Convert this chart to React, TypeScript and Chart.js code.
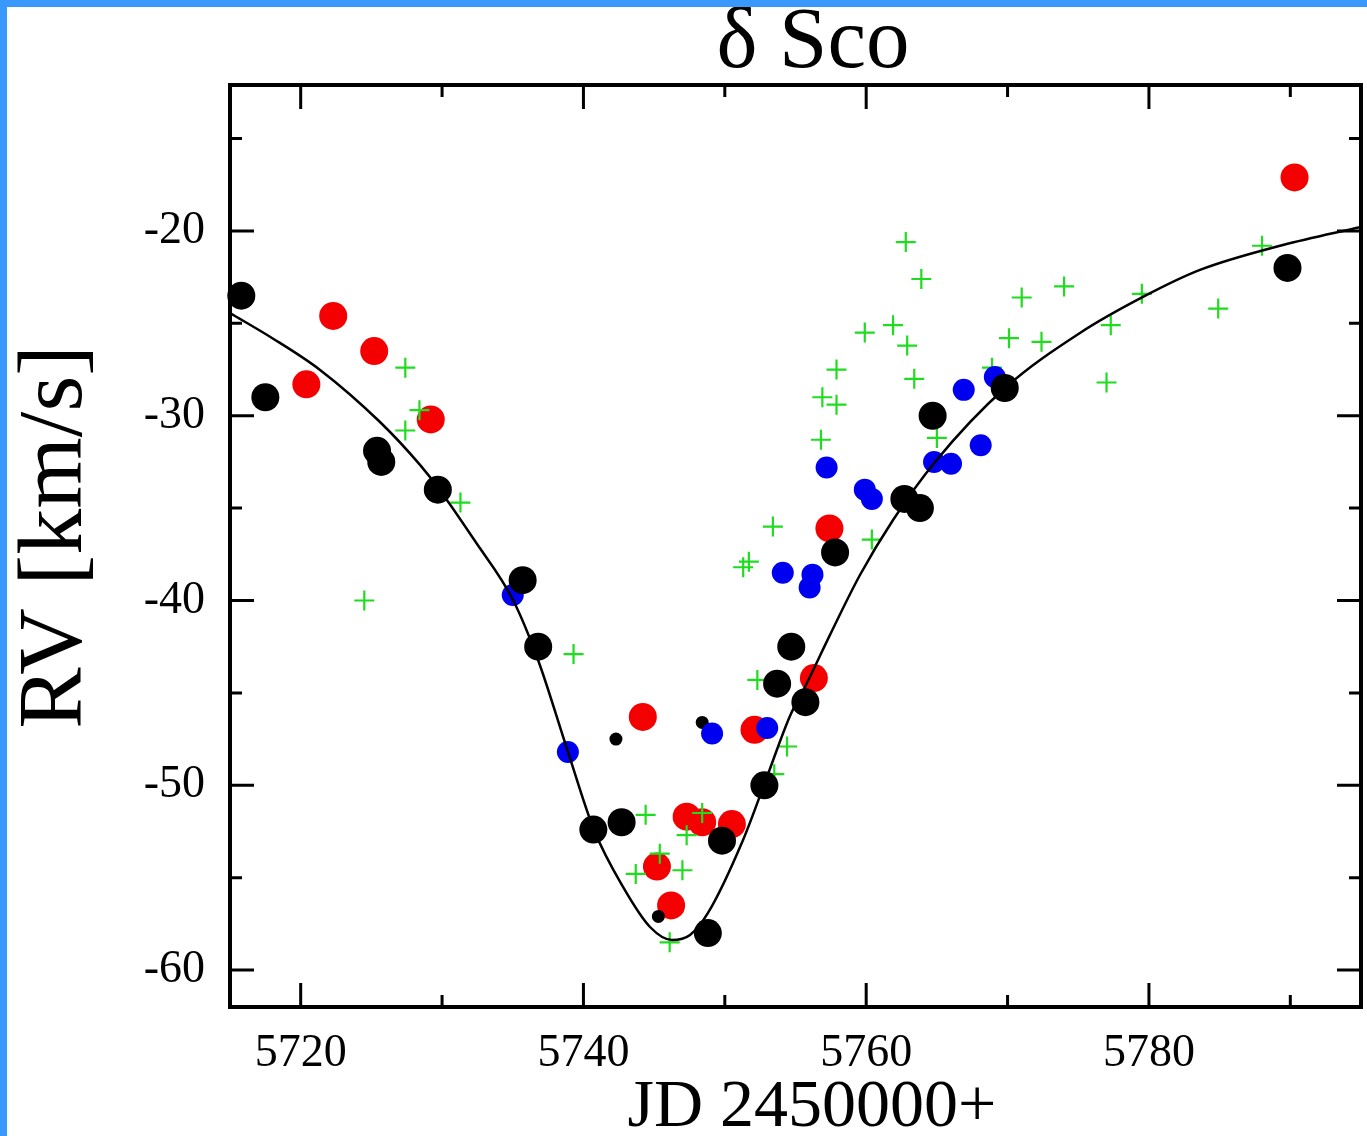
import React, { useEffect, useRef } from "react";
import { Chart, registerables } from "chart.js";

Chart.register(...registerables);

const TITLE = "δ Sco";
const X_TITLE = "JD 2450000+";
const Y_TITLE = "RV [km/s]";

const X_MIN = 5715;
const X_MAX = 5795;
const Y_MIN = -62;
const Y_MAX = -12.1;
const X_TICKS = [5720, 5740, 5760, 5780];
const X_MINOR = [5730, 5750, 5770, 5790];
const Y_TICKS = [-20, -30, -40, -50, -60];
const Y_MINOR = [-15, -25, -35, -45, -55];

// model orbit curve
const CURVE_X = [5715.0, 5717.97, 5721.37, 5725.61, 5728.44, 5729.78, 5732.33, 5735.02, 5736.79, 5738.91, 5740.75, 5742.8, 5744.71, 5746.26, 5747.54, 5748.81, 5751.29, 5752.98, 5754.61, 5755.74, 5757.44, 5759.56, 5761.9, 5764.87, 5769.82, 5775.12, 5779.58, 5783.61, 5789.48, 5795.0];
const CURVE_Y = [-24.44, -25.79, -27.52, -30.34, -32.66, -33.96, -36.78, -39.97, -43.22, -48.2, -52.42, -55.5, -57.67, -58.37, -58.1, -56.91, -52.96, -49.55, -46.25, -44.57, -41.86, -38.62, -35.64, -32.5, -28.5, -25.52, -23.57, -22.11, -20.76, -19.78];

// large black dots
const BLACK_X = [5715.8, 5717.5, 5725.4, 5725.7, 5729.7, 5735.7, 5736.8, 5740.7, 5742.7, 5748.8, 5749.8, 5752.8, 5753.7, 5754.7, 5755.7, 5757.8, 5762.7, 5763.8, 5764.7, 5769.8, 5789.8];
const BLACK_Y = [-23.5, -29.0, -31.9, -32.5, -34.0, -38.9, -42.5, -52.4, -52.0, -58.0, -53.0, -50.0, -44.5, -42.5, -45.5, -37.4, -34.5, -35.0, -30.0, -28.5, -22.0];

// red dots
const RED_X = [5720.4, 5722.3, 5725.2, 5729.2, 5744.2, 5745.2, 5746.2, 5747.3, 5748.4, 5750.5, 5752.1, 5756.3, 5757.4, 5790.3];
const RED_Y = [-28.3, -24.6, -26.5, -30.2, -46.3, -54.4, -56.5, -51.7, -52.0, -52.1, -47.0, -44.2, -36.1, -17.1];

// blue dots
const BLUE_X = [5735.0, 5738.9, 5749.1, 5753.0, 5754.1, 5756.0, 5756.2, 5757.2, 5759.9, 5760.4, 5764.8, 5766.0, 5768.1, 5766.9, 5769.1];
const BLUE_Y = [-39.7, -48.2, -47.2, -46.9, -38.5, -39.3, -38.6, -32.8, -34.0, -34.5, -32.5, -32.6, -31.6, -28.6, -27.9];

// small black dots
const SMALL_X = [5742.3, 5748.4, 5745.3];
const SMALL_Y = [-47.5, -46.6, -57.1];

// green crosses
const GREEN_X = [5724.5, 5727.4, 5728.4, 5727.4, 5731.3, 5739.3, 5744.4, 5743.7, 5745.4, 5747.0, 5747.3, 5748.4, 5746.1, 5754.4, 5752.3, 5753.5, 5751.3, 5751.7, 5753.4, 5760.4, 5756.8, 5756.9, 5757.9, 5757.9, 5759.9, 5761.9, 5762.9, 5763.4, 5762.8, 5763.9, 5768.9, 5765.0, 5770.1, 5772.4, 5771.0, 5774.0, 5777.3, 5777.0, 5779.5, 5784.9, 5788.0];
const GREEN_Y = [-40.0, -27.4, -29.7, -30.8, -34.7, -42.9, -51.6, -54.8, -53.7, -54.6, -52.7, -51.5, -58.5, -47.9, -44.3, -49.4, -38.2, -37.9, -36.0, -36.7, -31.3, -29.0, -29.4, -27.5, -25.5, -25.1, -26.2, -28.0, -20.6, -22.6, -27.4, -31.2, -25.8, -26.0, -23.6, -23.0, -25.1, -28.2, -23.4, -24.2, -20.8];

const pts = (xs: number[], ys: number[]) => xs.map((x, i) => ({ x, y: ys[i] }));

const SERIF = "'Liberation Serif', 'DejaVu Serif', serif";

const framePlugin = {
  id: "frameAndTitles",
  afterDraw(chart: any) {
    const { ctx, chartArea: a, scales } = chart;
    const x = scales.x;
    const y = scales.y;
    ctx.save();
    ctx.strokeStyle = "#000";
    ctx.lineCap = "butt";
    ctx.lineWidth = 3;
    const xt = (vals: number[], len: number) => {
      vals.forEach((v) => {
        const px = x.getPixelForValue(v);
        ctx.beginPath();
        ctx.moveTo(px, a.bottom);
        ctx.lineTo(px, a.bottom - len);
        ctx.moveTo(px, a.top);
        ctx.lineTo(px, a.top + len);
        ctx.stroke();
      });
    };
    const yt = (vals: number[], len: number) => {
      vals.forEach((v) => {
        const py = y.getPixelForValue(v);
        ctx.beginPath();
        ctx.moveTo(a.left, py);
        ctx.lineTo(a.left + len, py);
        ctx.moveTo(a.right, py);
        ctx.lineTo(a.right - len, py);
        ctx.stroke();
      });
    };
    xt(X_TICKS, 24);
    xt(X_MINOR, 12);
    yt(Y_TICKS, 24);
    yt(Y_MINOR, 12);
    ctx.lineWidth = 4;
    ctx.strokeRect(a.left, a.top, a.right - a.left, a.bottom - a.top);

    ctx.fillStyle = "#000";
    ctx.textAlign = "center";
    ctx.textBaseline = "middle";
    ctx.font = `87px ${SERIF}`;
    ctx.fillText(TITLE, 813, 44);
    ctx.font = `68px ${SERIF}`;
    ctx.fillText(X_TITLE, 812, 1108);
    ctx.translate(55, 537);
    ctx.rotate(-Math.PI / 2);
    ctx.font = `92px ${SERIF}`;
    ctx.fillText(Y_TITLE, 0, 2);
    ctx.restore();
  },
};

export default function App() {
  const ref = useRef<HTMLCanvasElement | null>(null);

  useEffect(() => {
    if (!ref.current) return;
    const chart = new Chart(ref.current, {
      type: "scatter",
      data: {
        datasets: [
          {
            type: "line",
            data: pts(CURVE_X, CURVE_Y),
            borderColor: "#000",
            borderWidth: 2.5,
            pointRadius: 0,
            cubicInterpolationMode: "monotone",
            fill: false,
            order: 0,
          } as any,
          {
            data: pts(BLACK_X, BLACK_Y),
            backgroundColor: "#000",
            borderWidth: 0,
            pointRadius: 14,
            order: 1,
            clip: false,
          },
          {
            data: pts(BLUE_X, BLUE_Y),
            backgroundColor: "#0000f0",
            borderWidth: 0,
            pointRadius: 11,
            order: 2,
            clip: false,
          },
          {
            data: pts(SMALL_X, SMALL_Y),
            backgroundColor: "#000",
            borderWidth: 0,
            pointRadius: 6.5,
            order: 3,
            clip: false,
          },
          {
            data: pts(GREEN_X, GREEN_Y),
            pointStyle: "cross",
            borderColor: "#1edc1e",
            backgroundColor: "#1edc1e",
            borderWidth: 2.2,
            pointRadius: 10,
            order: 4,
            clip: false,
          },
          {
            data: pts(RED_X, RED_Y),
            backgroundColor: "#f50000",
            borderWidth: 0,
            pointRadius: 14,
            order: 5,
            clip: false,
          },
        ],
      },
      options: {
        responsive: false,
        animation: false,
        devicePixelRatio: 1,
        layout: { autoPadding: false, padding: { top: 85, right: 6, left: 0, bottom: 0 } },
        plugins: {
          legend: { display: false },
          tooltip: { enabled: false },
          title: { display: false },
        },
        scales: {
          x: {
            type: "linear",
            min: X_MIN,
            max: X_MAX,
            grid: { display: false, drawTicks: false },
            border: { display: false },
            ticks: {
              font: { family: SERIF, size: 46 },
              color: "#000",
              padding: 19,
              maxRotation: 0,
              autoSkip: false,
              callback: (v: any) => String(v),
            },
            afterBuildTicks: (s: any) => {
              s.ticks = X_TICKS.map((v) => ({ value: v }));
            },
            afterFit: (s: any) => {
              s.height = 129;
              s.paddingLeft = 0;
              s.paddingRight = 0;
              s.paddingTop = 0;
              s.paddingBottom = 0;
            },
          },
          y: {
            type: "linear",
            min: Y_MIN,
            max: Y_MAX,
            grid: { display: false, drawTicks: false },
            border: { display: false },
            ticks: {
              font: { family: SERIF, size: 46 },
              color: "#000",
              padding: 25,
              autoSkip: false,
              callback: (v: any) => String(v),
            },
            afterBuildTicks: (s: any) => {
              s.ticks = Y_TICKS.map((v) => ({ value: v }));
            },
            afterFit: (s: any) => {
              s.width = 230;
              s.paddingLeft = 0;
              s.paddingRight = 0;
              s.paddingTop = 0;
              s.paddingBottom = 0;
            },
          },
        },
      },
      plugins: [framePlugin],
    });
    return () => chart.destroy();
  }, []);

  return (
    <div
      style={{
        position: "absolute",
        left: 0,
        top: 0,
        width: 1367,
        height: 1136,
        background: "#fff",
        overflow: "hidden",
      }}
    >
      <canvas ref={ref} width={1367} height={1136} style={{ position: "absolute", left: 0, top: 0, width: 1367, height: 1136 }} />
      <div style={{ position: "absolute", left: 0, top: 0, width: 7, height: 1136, background: "#3898fc" }} />
      <div style={{ position: "absolute", left: 0, top: 0, width: 1367, height: 7, background: "#3898fc" }} />
    </div>
  );
}
